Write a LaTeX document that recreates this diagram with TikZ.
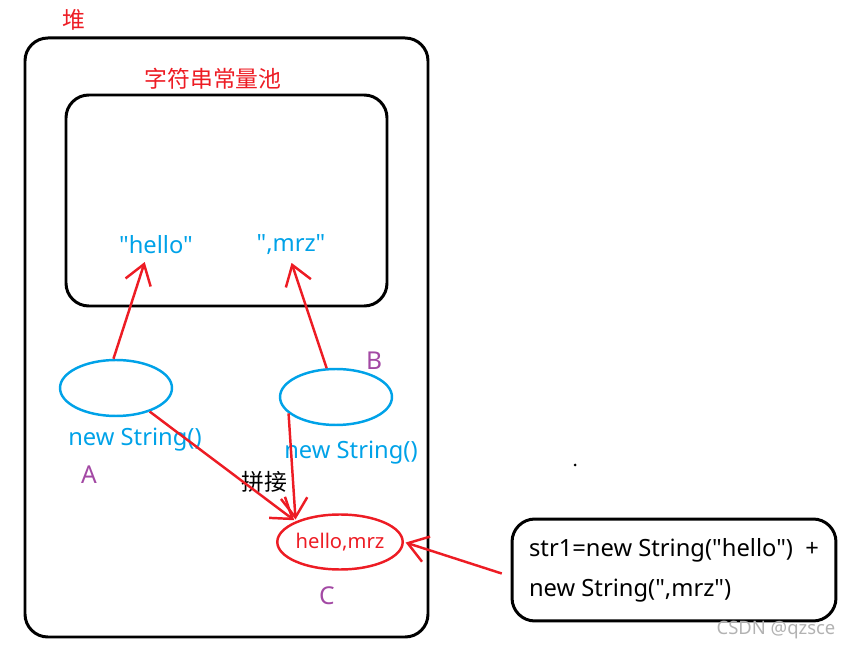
\documentclass[tikz,border=0pt]{standalone}
\usepackage{fontspec}
\setmainfont{Noto Sans}[Ligatures=TeXOff]
\newfontfamily\cjk{Noto Sans CJK SC}
\usepackage{xcolor}
\usetikzlibrary{positioning, arrows.meta, shapes.geometric}

\definecolor{paintred}{RGB}{237,28,36}
\definecolor{paintblue}{RGB}{0,162,232}
\definecolor{paintpurple}{RGB}{163,73,164}

\begin{document}
\begin{tikzpicture}[x=0.02cm, y=-0.02cm, shorten >=1pt, >={Straight Barb[length=11pt, width=15pt]},
    box/.style={draw, line width=1.7pt, rounded corners=13pt},
    obj/.style={ellipse, draw=paintblue, line width=1.4pt, minimum width=2.24cm, minimum height=1.12cm, inner sep=0pt},
    res/.style={ellipse, draw=paintred, line width=1.4pt, minimum width=2.28cm, minimum height=1.1cm, inner sep=0pt, text=paintred, font=\fontsize{11.5pt}{13pt}\selectfont},
    title/.style={text=paintred, font=\cjk\fontsize{13pt}{15pt}\selectfont},
    lit/.style={text=paintblue, font=\fontsize{13.5pt}{16pt}\selectfont},
    tag/.style={text=paintpurple, font=\fontsize{14pt}{16pt}\selectfont},
    ref/.style={draw=paintred, line width=1.4pt}]
    \useasboundingbox (0,0) rectangle (852,651);

    % heap and pool
    \draw[box] (25,38) rectangle (428,637);
    \draw[box] (66,95) rectangle (387,306);
    \node[title] (heap) at (74,20) {堆};
    \node[title] (pool) at (213,79) {字符串常量池};

    \node[lit] (hello) at (156,245) {"hello"};
    \node[lit] (mrz) at (291,245) {",mrz"};

    % objects
    \node[obj] (A) at (116,388) {};
    \node[obj] (B) at (336,397) {};
    \node[res] (C) at (340,542) {hello,mrz};

    \node[lit] (newA) at (135,440) {new String()};
    \node[lit] (newB) at (351,453) {new String()};
    \node[tag] (labA) at (89,475) {A};
    \node[tag] (labB) at (374,361) {B};
    \node[tag] (labC) at (327,596) {C};
    \node[font=\cjk\fontsize{13pt}{15pt}\selectfont] (join) at (264,482) {拼接};

    \node[box, align=left, minimum width=6.48cm, minimum height=2.04cm,
        font=\fontsize{13.5pt}{0.8cm}\selectfont] (code) at (674,570)
        {str1=new String("hello")~~+\\new String(",mrz")};

    \fill (575,465) circle (1.5);
    \node[text=black!30, font=\fontsize{10.5pt}{13pt}\selectfont] (mark) at (776,630) {CSDN @qzsce};

    \path[->, every edge/.append style=ref]
    (A.95) edge (hello.235)
    (B.108) edge (mrz.south)
    (A.-35) edge (C.155)
    (B.199) edge (C.155)
    ([xshift=-5pt, yshift=-2pt]code.west) edge (C.east);
\end{tikzpicture}
\end{document}
